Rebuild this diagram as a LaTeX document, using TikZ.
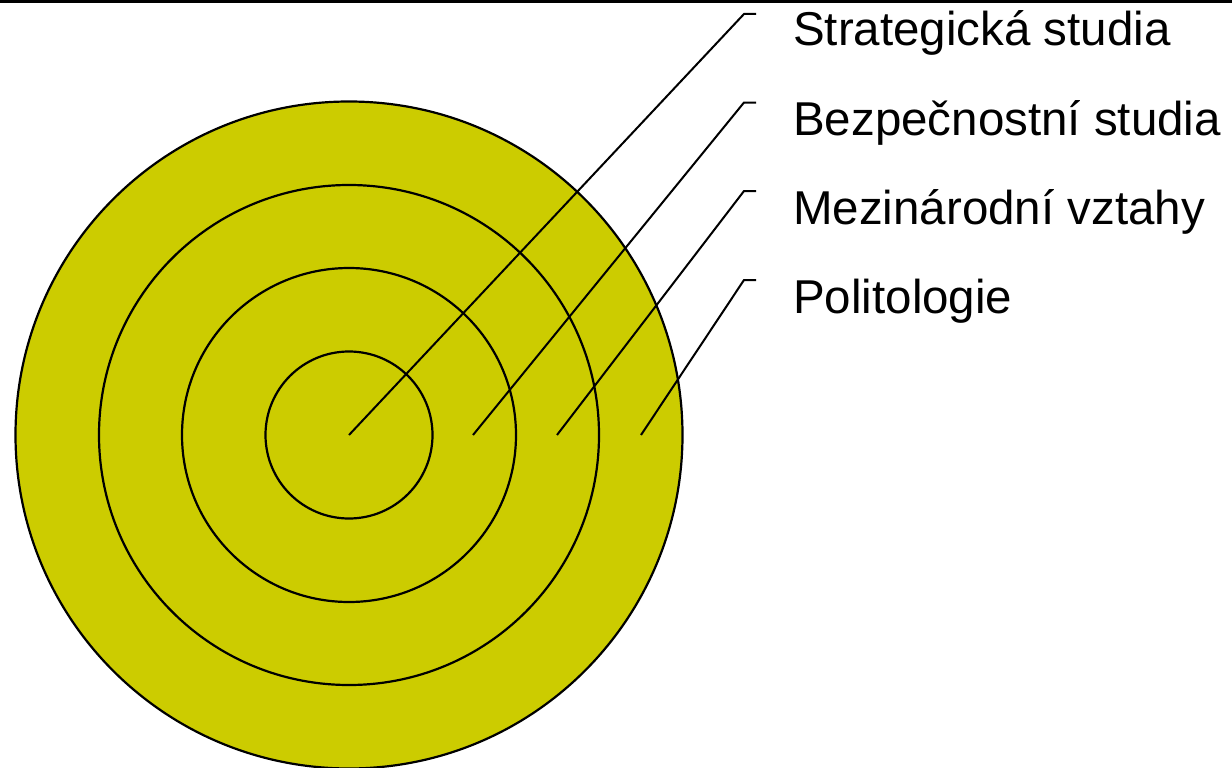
\documentclass[tikz,border=0pt]{standalone}
\usepackage{fontspec}
\setmainfont{Liberation Sans}
\definecolor{ringfill}{RGB}{204,204,0}
\begin{document}
\begin{tikzpicture}[x=1pt,y=-1pt,
  ring/.style={draw=black,line width=2.2pt},
  callout/.style={draw=black,line width=2pt},
  lbl/.style={anchor=base west,inner sep=0pt,font=\fontsize{47.5}{56}\selectfont}]
\useasboundingbox (0,0) rectangle (1232,768);
\draw[line width=3pt] (0,1.3) -- (1232,1.3);
% rings
\coordinate (c) at (349,435);
\draw[ring,fill=ringfill] (c) circle[radius=333.5];
\draw[ring] (c) circle[radius=250];
\draw[ring] (c) circle[radius=167];
\draw[ring] (c) circle[radius=83.5];
% callout start points
\coordinate (s1) at (349,435);
\coordinate (s2) at (473,435);
\coordinate (s3) at (557,435);
\coordinate (s4) at (641,435);
% corners
\coordinate (k1) at (744,14);
\coordinate (k2) at (744,102.5);
\coordinate (k3) at (744,191);
\coordinate (k4) at (744,280);
\coordinate (e1) at (756,14);
\coordinate (e2) at (756,102.5);
\coordinate (e3) at (756,191);
\coordinate (e4) at (756,280);
\draw[callout] (s1) -- (k1) -- (e1);
\draw[callout] (s2) -- (k2) -- (e2);
\draw[callout] (s3) -- (k3) -- (e3);
\draw[callout] (s4) -- (k4) -- (e4);
% labels
\node[lbl] (l1) at (793,46) {Strategická studia};
\node[lbl] (l2) at (793,135) {Bezpečnostní studia};
\node[lbl] (l3) at (793,224) {Mezinárodní vztahy};
\node[lbl] (l4) at (793,313) {Politologie};
\end{tikzpicture}
\end{document}
